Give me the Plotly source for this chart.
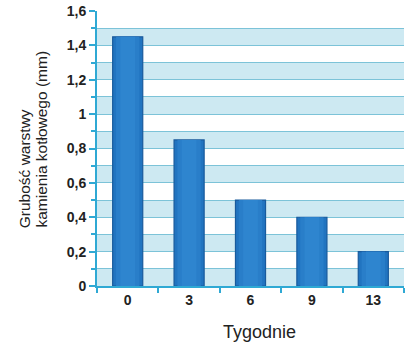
import plotly.graph_objects as go

# Data
weeks = ["0", "3", "6", "9", "13"]
thickness = [1.45, 0.85, 0.5, 0.4, 0.2]
y_ticks = [0, 0.2, 0.4, 0.6, 0.8, 1.0, 1.2, 1.4, 1.6]
y_title_lines = ["Grubość warstwy", "kamienia kotłowego (mm)"]
x_title = "Tygodnie"

axis_color = "#2fa9d4"
grid_color = "#7cc3d8"
band_color = "#cde9f2"

fig = go.Figure()

# Bars: outlined body with slightly lighter inner layers for soft shading
fig.add_trace(go.Bar(x=weeks, y=thickness, width=0.49,
                     marker=dict(color="#2174c0", line=dict(color="#195a9c", width=1.2)),
                     hoverinfo="skip"))
fig.add_trace(go.Bar(x=weeks, y=thickness, width=0.38,
                     marker=dict(color="#297ec9", line=dict(width=0)),
                     hoverinfo="skip"))
fig.add_trace(go.Bar(x=weeks, y=thickness, width=0.24,
                     marker=dict(color="#2e85cf", line=dict(width=0)),
                     hoverinfo="skip"))

# Alternating horizontal background bands every 0.1
shapes = []
for i in range(16):
    lo = i / 10
    if i % 2 == 0:
        shapes.append(dict(type="rect", xref="paper", yref="y", x0=0, x1=1,
                           y0=lo, y1=lo + 0.1, fillcolor=band_color,
                           line=dict(width=0), layer="below"))

# Axis titles as annotations (two rotated lines, bottom-aligned)
annotations = [
    dict(text=y_title_lines[0], textangle=-90, xref="paper", yref="paper",
         x=-0.235, y=0.204, xanchor="center", yanchor="bottom", showarrow=False,
         font=dict(size=15.5, color="#222")),
    dict(text=y_title_lines[1], textangle=-90, xref="paper", yref="paper",
         x=-0.182, y=0.204, xanchor="center", yanchor="bottom", showarrow=False,
         font=dict(size=15.5, color="#222")),
    dict(text=x_title, xref="paper", yref="paper", x=0.528, y=-0.167,
         xanchor="center", yanchor="middle", showarrow=False,
         font=dict(size=18, color="#222")),
]

fig.update_layout(
    width=416, height=349,
    margin=dict(l=97, r=12, t=11, b=63),
    paper_bgcolor="white", plot_bgcolor="white",
    barmode="overlay", showlegend=False,
    separators=", ",
    shapes=shapes, annotations=annotations,
    font=dict(family="Liberation Sans, Arial, sans-serif", color="#222"),
    xaxis=dict(
        type="category", automargin=False,
        showline=True, linecolor=axis_color, linewidth=2,
        ticks="outside", tickcolor=axis_color, ticklen=5, tickwidth=2,
        tickson="boundaries",
        showgrid=False,
        tickfont=dict(size=14, weight="bold", color="#222"),
    ),
    yaxis=dict(
        range=[0, 1.6], tickvals=y_ticks, automargin=False,
        showline=True, linecolor=axis_color, linewidth=2,
        ticks="outside", tickcolor=axis_color, ticklen=6, tickwidth=2,
        showgrid=True, gridcolor=grid_color, gridwidth=1,
        minor=dict(dtick=0.1, showgrid=True, gridcolor=grid_color, gridwidth=1,
                   ticks="outside", ticklen=4, tickcolor=axis_color),
        zeroline=False,
        tickfont=dict(size=14, weight="bold", color="#222"),
    ),
)

fig.write_html("out.html")
